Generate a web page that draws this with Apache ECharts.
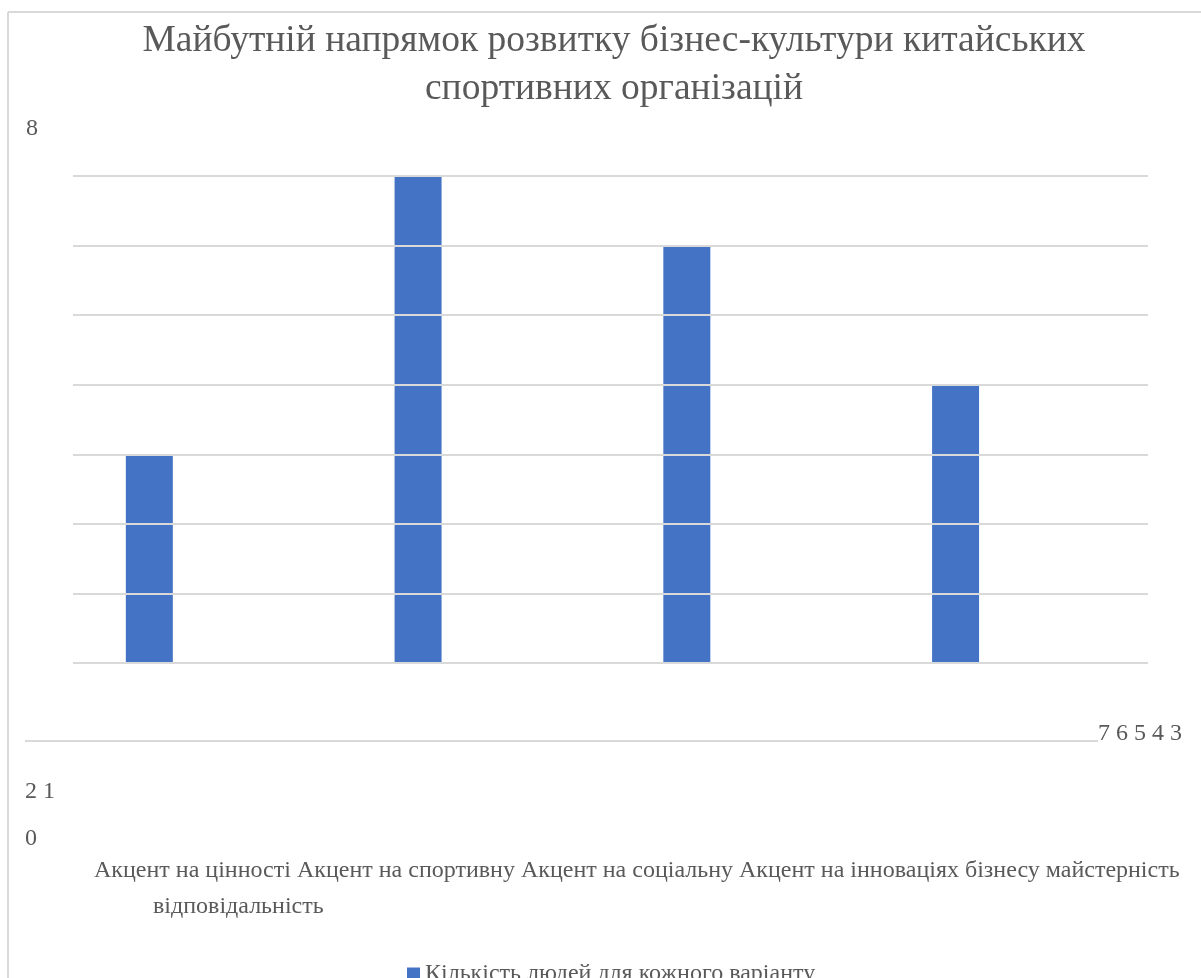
<!DOCTYPE html>
<html>
<head>
<meta charset="utf-8">
<title>Майбутній напрямок розвитку бізнес-культури</title>
<script src="https://cdn.jsdelivr.net/npm/echarts@6/dist/echarts.min.js"></script>
<style>
  html, body { margin: 0; padding: 0; background: #ffffff; }
  #chart { width: 1201px; height: 978px; }
</style>
</head>
<body>
<div id="chart"></div>
<script>
// Survey answers: number of people choosing each direction
const categories = [
  'Акцент на цінності бізнесу',
  'Акцент на спортивну майстерність',
  'Акцент на соціальну відповідальність',
  'Акцент на інноваціях'
];
const peopleCount = [3, 7, 6, 4];
const seriesName = 'Кількість людей для кожного варіанту';
const yTickLabels = ['8', '7', '6', '5', '4', '3', '2', '1', '0'];
const titleText = 'Майбутній напрямок розвитку бізнес-культури китайських\nспортивних організацій';

const SERIF = '"Liberation Serif", "Times New Roman", serif';
const TEXT_GREY = '#595959';
const LINE_GREY = '#d9d9d9';
const LABEL_FONT = '24px ' + SERIF;

// Category labels flow as wrapped text: first three words of each, then the remainders
const heads = categories.map(c => c.split(' ').slice(0, 3).join(' '));
const tails = categories.map(c => c.split(' ').slice(3).join(' ')).filter(t => t);
const catLine1 = heads.concat(tails.slice(0, 2)).join(' ');
const catLine2 = tails.slice(2).join(' ');

// Value labels scattered around the plot in groups
const tickGroups = [
  { text: yTickLabels.slice(0, 1).join(' '), x: 26, y: 129, align: 'left' },
  { text: yTickLabels.slice(1, 6).join(' '), x: 1182, y: 734, align: 'right' },
  { text: yTickLabels.slice(6, 8).join(' '), x: 25, y: 792, align: 'left' },
  { text: yTickLabels.slice(8).join(' '), x: 25, y: 839, align: 'left' }
];

const chart = echarts.init(document.getElementById('chart'), null, { renderer: 'canvas' });

const graphics = [
  // chart frame (top and left edges)
  { type: 'line', shape: { x1: 8, y1: 12, x2: 1201, y2: 12 }, style: { stroke: LINE_GREY, lineWidth: 2 }, silent: true },
  { type: 'line', shape: { x1: 8, y1: 12, x2: 8, y2: 978 }, style: { stroke: LINE_GREY, lineWidth: 2 }, silent: true },
  // detached horizontal rule below the plot
  { type: 'line', shape: { x1: 25, y1: 741, x2: 1098, y2: 741 }, style: { stroke: LINE_GREY, lineWidth: 2 }, silent: true },
  {
    type: 'text', x: 94, y: 871,
    style: { text: catLine1, font: LABEL_FONT, fill: TEXT_GREY, verticalAlign: 'middle', align: 'left' },
    silent: true
  },
  {
    type: 'text', x: 153, y: 907,
    style: { text: catLine2, font: LABEL_FONT, fill: TEXT_GREY, verticalAlign: 'middle', align: 'left' },
    silent: true
  }
].concat(tickGroups.map(g => ({
  type: 'text', x: g.x, y: g.y,
  style: { text: g.text, font: LABEL_FONT, fill: TEXT_GREY, verticalAlign: 'middle', align: g.align },
  silent: true
})));

chart.setOption({
  animation: false,
  backgroundColor: '#ffffff',
  title: {
    text: titleText,
    left: 609,
    top: 12,
    textAlign: 'center',
    textStyle: {
      fontFamily: SERIF,
      fontSize: 37.5,
      fontWeight: 'normal',
      color: TEXT_GREY,
      lineHeight: 48
    }
  },
  legend: {
    data: [seriesName],
    left: 407,
    top: 962,
    padding: 0,
    icon: 'rect',
    itemWidth: 13,
    itemHeight: 13,
    textStyle: { fontFamily: SERIF, fontSize: 24, color: TEXT_GREY }
  },
  grid: { left: 73, right: 53, top: 176, bottom: 315, containLabel: false },
  xAxis: {
    type: 'category',
    data: categories,
    axisLine: { show: false },
    axisTick: { show: false },
    axisLabel: { show: false }
  },
  yAxis: {
    type: 'value',
    min: 0,
    max: 7,
    interval: 1,
    z: 5,
    axisLine: { show: false },
    axisTick: { show: false },
    axisLabel: { show: false },
    splitLine: { lineStyle: { color: LINE_GREY, width: 2 } }
  },
  series: [
    {
      name: seriesName,
      type: 'bar',
      data: peopleCount,
      barWidth: 47,
      barGap: '147%',
      itemStyle: { color: '#4472C4' }
    },
    {
      // empty companion series that reserves the second slot in each category
      name: 'slot',
      type: 'bar',
      data: categories.map(() => null),
      barWidth: 47,
      itemStyle: { color: 'transparent' }
    }
  ],
  graphic: graphics
});
</script>
</body>
</html>
